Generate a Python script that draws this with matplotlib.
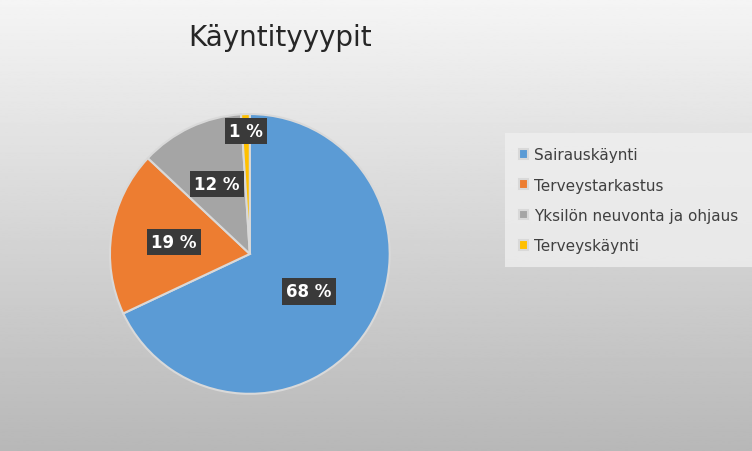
import matplotlib.pyplot as plt
import numpy as np

labels = ['Sairauskäynti', 'Terveystarkastus', 'Yksilön neuvonta ja ohjaus', 'Terveyskäynti']
values = [68, 19, 12, 1]
colors = ['#5b9bd5', '#ed7d31', '#a5a5a5', '#ffc000']
label_dist = [0.5, 0.55, 0.55, 0.88]

fig = plt.figure(figsize=(7.52, 4.52), dpi=100)

# gray gradient background
bg = fig.add_axes([0, 0, 1, 1], zorder=-10)
grad = np.linspace(0.96, 0.72, 256).reshape(-1, 1)
bg.imshow(grad, cmap='gray', vmin=0, vmax=1, aspect='auto', extent=[0, 1, 0, 1])
bg.axis('off')

fig.text(0.372, 0.915, 'Käyntityyypit', ha='center', va='center', fontsize=20, color='#262626')

ax = fig.add_axes([0.0997, 0.049, 0.465, 0.774])
wedges, _ = ax.pie(values, colors=colors, startangle=90, counterclock=False,
                   wedgeprops=dict(edgecolor='#d9d9d9', linewidth=1.5))
ax.set_aspect('equal')

for w, v, d in zip(wedges, values, label_dist):
    ang = np.deg2rad((w.theta1 + w.theta2) / 2)
    ax.text(d * np.cos(ang), d * np.sin(ang), f'{v} %', ha='center', va='center',
            fontsize=12, fontweight='bold', color='white',
            bbox=dict(boxstyle='square,pad=0.25', facecolor='#3a3a3a', edgecolor='none'))

leg = fig.legend(wedges, labels, loc='center left', bbox_to_anchor=(0.662, 0.555),
                 frameon=True, fontsize=11, handlelength=0.6, handleheight=0.6,
                 labelspacing=1.0, borderpad=0.9, handletextpad=0.4, fancybox=False)
leg.get_frame().set_facecolor('#efefef')
leg.get_frame().set_edgecolor('none')
for t in leg.get_texts():
    t.set_color('#404040')

fig.savefig('out.png', dpi=100)
